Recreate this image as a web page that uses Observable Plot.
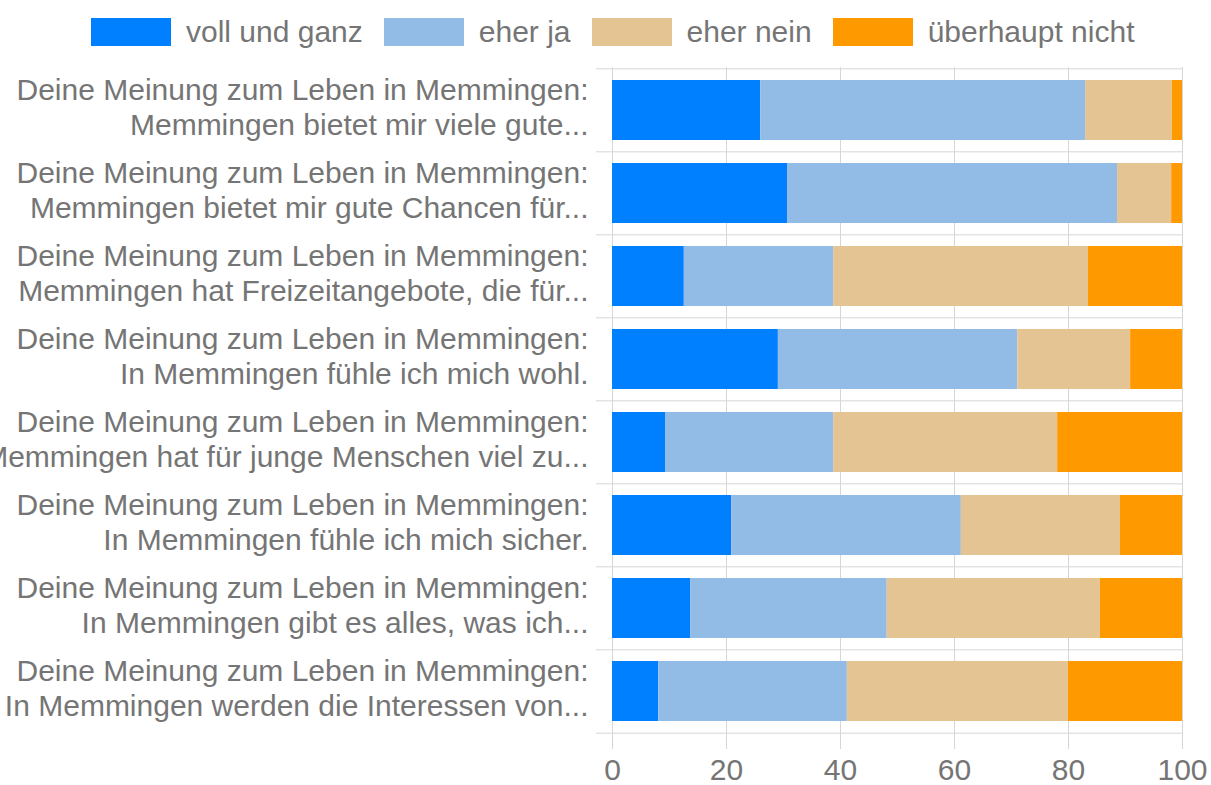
<!DOCTYPE html>
<html>
<head>
<meta charset="utf-8">
<script src="https://cdn.jsdelivr.net/npm/d3@7"></script>
<script src="https://cdn.jsdelivr.net/npm/@observablehq/plot@0.6"></script>
<style>
  body { margin: 0; background: #fff; font-family: "Liberation Sans", Arial, sans-serif; }
  #legend { height: 64px; position: relative; display: flex; align-items: center; padding-left: 91px; box-sizing: border-box; }
  .item { display: flex; align-items: center; margin-right: 21px; }
  .sw { width: 80px; height: 28px; margin-right: 15px; }
  .lab { font-size: 30px; color: #757575; white-space: nowrap; }
  #chart svg { display: block; overflow: visible; }
</style>
</head>
<body>
<div id="legend"></div>
<div id="chart"></div>
<script>
const prefix = "Deine Meinung zum Leben in Memmingen:";
const questions = [
  "Memmingen bietet mir viele gute...",
  "Memmingen bietet mir gute Chancen für...",
  "Memmingen hat Freizeitangebote, die für...",
  "In Memmingen fühle ich mich wohl.",
  "Memmingen hat für junge Menschen viel zu...",
  "In Memmingen fühle ich mich sicher.",
  "In Memmingen gibt es alles, was ich...",
  "In Memmingen werden die Interessen von..."
];
const seriesNames = ["voll und ganz", "eher ja", "eher nein", "überhaupt nicht"];
const seriesColors = ["#0080ff", "#92bce6", "#e5c494", "#ff9900"];
const vollUndGanz    = [26.0, 30.7, 12.6, 29.1,  9.3, 20.9, 13.7,  8.1];
const eherJa         = [57.0, 57.9, 26.2, 42.0, 29.5, 40.3, 34.5, 33.1];
const eherNein       = [15.2,  9.5, 44.7, 19.8, 39.3, 27.9, 37.4, 38.8];
const ueberhauptNicht= [ 1.8,  1.9, 16.5,  9.1, 21.9, 10.9, 14.4, 20.0];
const xTicks = [0, 20, 40, 60, 80, 100];

const seriesValues = [vollUndGanz, eherJa, eherNein, ueberhauptNicht];
const labels = questions.map(q => prefix + "\n" + q);
const data = [];
seriesNames.forEach((s, si) => {
  labels.forEach((q, qi) => data.push({question: q, series: s, value: seriesValues[si][qi]}));
});

// legend
const legend = document.getElementById("legend");
seriesNames.forEach((s, i) => {
  const it = document.createElement("div"); it.className = "item";
  const sw = document.createElement("div"); sw.className = "sw"; sw.style.background = seriesColors[i];
  const lb = document.createElement("span"); lb.className = "lab"; lb.textContent = s;
  it.appendChild(sw); it.appendChild(lb); legend.appendChild(it);
});

const W = 1211, H = 721, mt = 3, mb = 51, ml = 612, mr = 29;
const step = (H - mt - mb) / labels.length;
const grid = "#d6d6d6";

const chart = Plot.plot({
  width: W, height: H,
  marginTop: mt, marginBottom: mb, marginLeft: ml, marginRight: mr,
  style: {fontFamily: "'Liberation Sans', Arial, sans-serif", color: "#757575", background: "#fff"},
  x: {domain: [0, 100], ticks: xTicks, label: null},
  y: {domain: labels, paddingInner: 0.28, paddingOuter: 0.14, label: null},
  color: {domain: seriesNames, range: seriesColors},
  marks: [
    Plot.ruleX(xTicks, {stroke: grid, strokeOpacity: 1, insetBottom: -15}),
    Plot.ruleY(labels, {stroke: grid, strokeOpacity: 1, dy: -step / 2, insetLeft: -16}),
    Plot.ruleY([labels[labels.length - 1]], {stroke: grid, strokeOpacity: 1, dy: step / 2, insetLeft: -16}),
    Plot.barX(data, Plot.stackX({y: "question", x: "value", fill: "series", order: seriesNames})),
    Plot.axisX({ticks: xTicks, tickSize: 0, tickPadding: 24, fontSize: 30, fill: "#757575", label: null}),
    Plot.axisY({tickSize: 0, tickPadding: 24, fontSize: 30, lineHeight: 1.17, dy: -4, fill: "#757575", label: null})
  ]
});
document.getElementById("chart").appendChild(chart);
</script>
</body>
</html>
